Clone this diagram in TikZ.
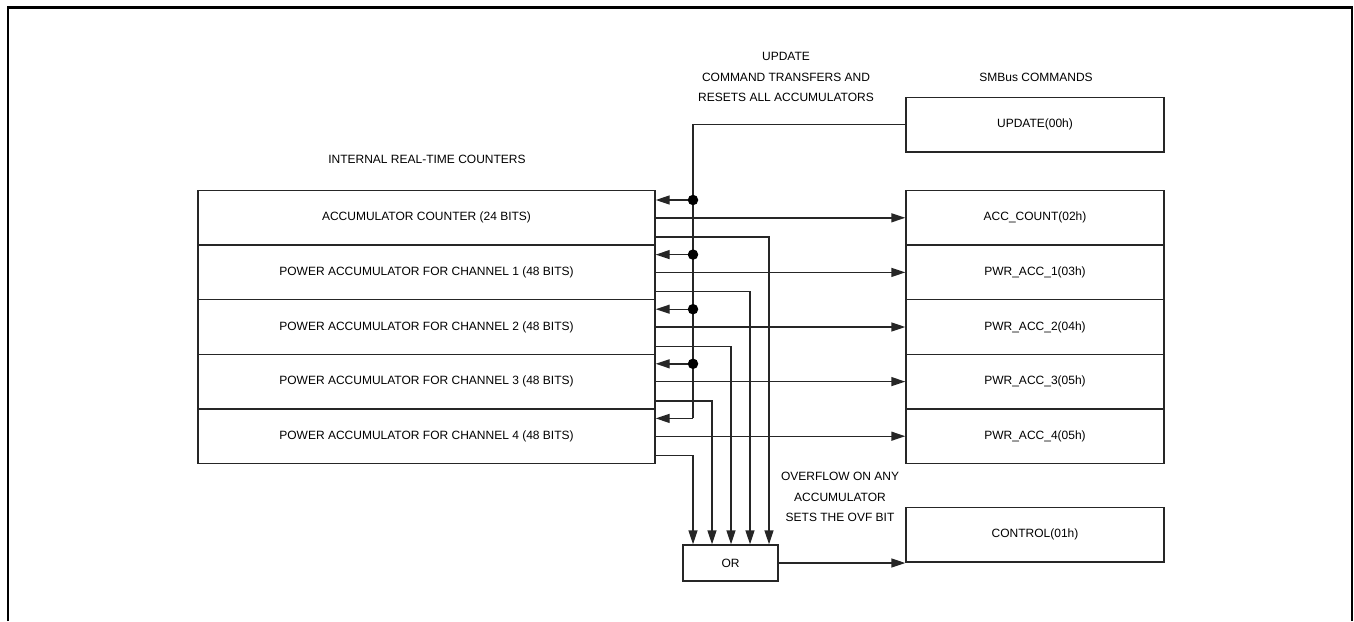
\documentclass[tikz,border=0pt]{standalone}
\usepackage{fontspec}
\setmainfont{Liberation Sans}
\usetikzlibrary{arrows.meta}
\begin{document}
\begin{tikzpicture}[x=1pt,y=-1pt,
  every node/.style={font=\fontsize{12}{14.5}\selectfont},
  line/.style={line width=1.4pt,draw=black!85},
  arr/.style={line, -{Triangle[length=14pt,width=9pt]}},
  lbox/.style={line, rectangle, minimum width=457pt, minimum height=54.6pt, inner sep=0pt},
  rbox/.style={line, rectangle, minimum width=258pt, minimum height=54.6pt, inner sep=0pt},
  orbox/.style={line, rectangle, minimum width=95pt, minimum height=36pt, inner sep=0pt},
  lbl/.style={align=center, inner sep=0pt},
  mlbl/.style={lbl, font=\fontsize{12}{20.5}\selectfont},
  dot/.style={circle, fill=black, inner sep=0pt, minimum size=10.5pt}]
\useasboundingbox (0,0) rectangle (1354,621);
\draw[line width=2.2pt] (8,621) -- (8,7.5) -- (1352,7.5) -- (1352,621);

% labels
\node[lbl] (tl) at (427,159) {INTERNAL REAL-TIME COUNTERS};
\node[mlbl] (tu) at (786,77) {UPDATE\\COMMAND TRANSFERS AND\\RESETS ALL ACCUMULATORS};
\node[lbl] (ts) at (1036,77) {SMBus COMMANDS};
\node[mlbl] (to) at (840,497) {OVERFLOW ON ANY\\ACCUMULATOR\\SETS THE OVF BIT};

% left boxes
\node[lbox] (l1) at (426.5,217.8) {ACCUMULATOR COUNTER (24 BITS)};
\node[lbox] (l2) at (426.5,272.4) {POWER ACCUMULATOR FOR CHANNEL 1 (48 BITS)};
\node[lbox] (l3) at (426.5,327.0) {POWER ACCUMULATOR FOR CHANNEL 2 (48 BITS)};
\node[lbox] (l4) at (426.5,381.6) {POWER ACCUMULATOR FOR CHANNEL 3 (48 BITS)};
\node[lbox] (l5) at (426.5,436.2) {POWER ACCUMULATOR FOR CHANNEL 4 (48 BITS)};

% right boxes
\node[rbox] (upd) at (1035,124.5) {UPDATE(00h)};
\node[rbox] (r1) at (1035,217.8) {ACC\_COUNT(02h)};
\node[rbox] (r2) at (1035,272.4) {PWR\_ACC\_1(03h)};
\node[rbox] (r3) at (1035,327.0) {PWR\_ACC\_2(04h)};
\node[rbox] (r4) at (1035,381.6) {PWR\_ACC\_3(05h)};
\node[rbox] (r5) at (1035,436.2) {PWR\_ACC\_4(05h)};
\node[rbox] (ctl) at (1035,534.5) {CONTROL(01h)};

\node[orbox] (or) at (730.5,563) {OR};

% update bus
\coordinate (j1) at (693,200);
\coordinate (j2) at (693,254.6);
\coordinate (j3) at (693,309.2);
\coordinate (j4) at (693,363.8);
\coordinate (j5) at (693,418.4);
\draw[line] (upd.west) -| (j5);
\draw[arr] (j1) -- (j1 -| l1.east);
\draw[arr] (j2) -- (j2 -| l2.east);
\draw[arr] (j3) -- (j3 -| l3.east);
\draw[arr] (j4) -- (j4 -| l4.east);
\draw[arr] (j5) -- (j5 -| l5.east);
\node[dot] (d1) at (j1) {};
\node[dot] (d2) at (j2) {};
\node[dot] (d3) at (j3) {};
\node[dot] (d4) at (j4) {};

% transfers
\draw[arr] (l1.east) -- (r1.west);
\draw[arr] (l2.east) -- (r2.west);
\draw[arr] (l3.east) -- (r3.west);
\draw[arr] (l4.east) -- (r4.west);
\draw[arr] (l5.east) -- (r5.west);

% overflow lines
\coordinate (o1) at (769,237);
\coordinate (o2) at (750,291.6);
\coordinate (o3) at (731,346.2);
\coordinate (o4) at (712,400.8);
\coordinate (o5) at (693,455.4);
\draw[arr] (o1 -| l1.east) -- (o1) -- (o1 |- or.north);
\draw[arr] (o2 -| l2.east) -- (o2) -- (o2 |- or.north);
\draw[arr] (o3 -| l3.east) -- (o3) -- (o3 |- or.north);
\draw[arr] (o4 -| l4.east) -- (o4) -- (o4 |- or.north);
\draw[arr] (o5 -| l5.east) -- (o5) -- (o5 |- or.north);

\draw[arr] (or.east) -- (or.east -| ctl.west);
\end{tikzpicture}
\end{document}
